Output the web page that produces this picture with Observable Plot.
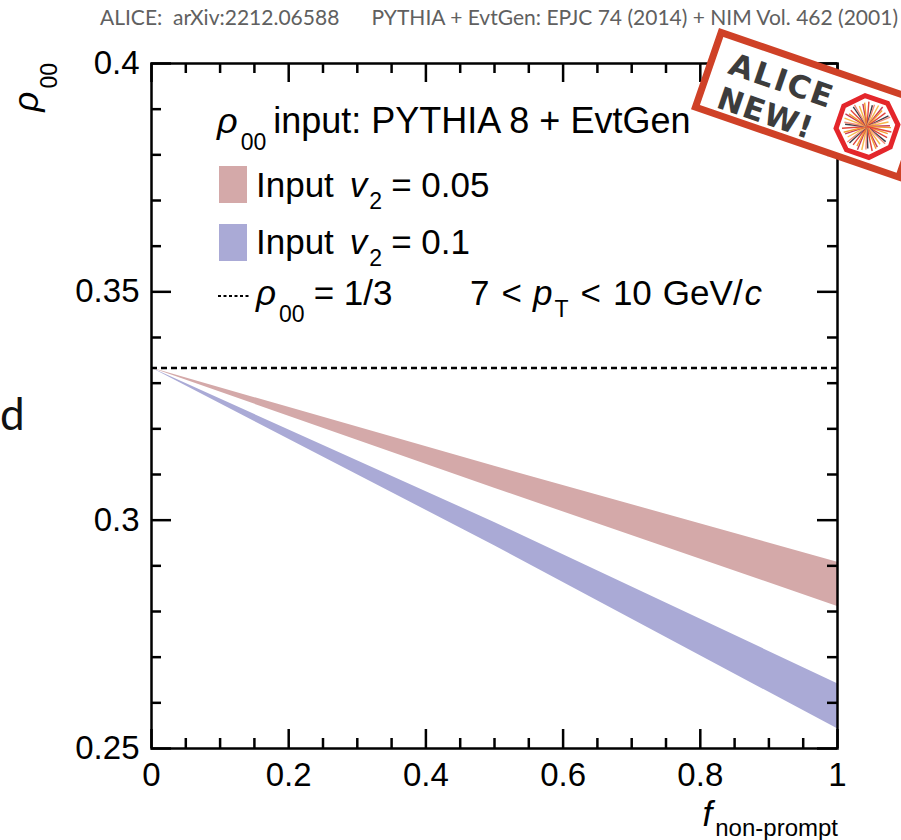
<!DOCTYPE html>
<html>
<head>
<meta charset="utf-8">
<script src="https://cdn.jsdelivr.net/npm/d3@7"></script>
<script src="https://cdn.jsdelivr.net/npm/@observablehq/plot@0.6"></script>
<style>
  body { margin: 0; background: #fff; }
  #wrap { position: relative; width: 901px; height: 840px; overflow: hidden; background: #fff; }
  #wrap > svg { position: absolute; left: 0; top: 0; }
</style>
</head>
<body>
<div id="wrap"></div>
<script>
// Non-prompt fraction and the simulated rho00 bands (lower / upper edge)
const fNonPrompt = [0, 0.5, 1];
const rhoV2005Upper = [0.3333, 0.3118, 0.2908];
const rhoV2005Lower = [0.3333, 0.3070, 0.2811];
const rhoV201Upper  = [0.3333, 0.2995, 0.2642];
const rhoV201Lower  = [0.3333, 0.2944, 0.2543];
const rhoUnpolarized = 1 / 3;

// Axis ticks
const xTicksMajor = [0, 0.2, 0.4, 0.6, 0.8, 1];
const xTickLabels = ["0", "0.2", "0.4", "0.6", "0.8", "1"];
const xTicksMinor = [0.05, 0.1, 0.15, 0.25, 0.3, 0.35, 0.45, 0.5, 0.55, 0.65, 0.7, 0.75, 0.85, 0.9, 0.95];
const yTicksMajor = [0.25, 0.3, 0.35, 0.4];
const yTickLabels = ["0.25", "0.3", "0.35", "0.4"];
const yTicksMinor = [0.26, 0.27, 0.28, 0.29, 0.31, 0.32, 0.33, 0.34, 0.36, 0.37, 0.38, 0.39];

const colV2005 = "#d4a9a9";
const colV201 = "#aaaad6";
const FONT = "'Liberation Sans', Arimo, Helvetica, Arial, sans-serif";

const W = 901, H = 840;
const mL = 151, mR = 64, mT = 63, mB = 92;
const fw = W - mL - mR, fh = H - mT - mB;
const lw = 2.5;

const band = (upper, lower) => fNonPrompt.map((f, i) => ({f, hi: upper[i], lo: lower[i]}));

const chart = Plot.plot({
  width: W, height: H,
  marginLeft: mL, marginRight: mR, marginTop: mT, marginBottom: mB,
  x: {domain: [0, 1]},
  y: {domain: [0.25, 0.4]},
  style: {fontFamily: FONT, fontSize: "33px", color: "#000", background: "transparent", overflow: "visible"},
  marks: [
    Plot.areaY(band(rhoV2005Upper, rhoV2005Lower), {x: "f", y1: "lo", y2: "hi", fill: colV2005}),
    Plot.areaY(band(rhoV201Upper, rhoV201Lower), {x: "f", y1: "lo", y2: "hi", fill: colV201}),
    Plot.ruleY([rhoUnpolarized], {stroke: "#000", strokeWidth: 2.6, strokeDasharray: "6,4"}),
    // inward ticks on all four sides
    Plot.ruleX(xTicksMajor, {x: d => d, insetTop: fh - 19, strokeWidth: lw}),
    Plot.ruleX(xTicksMajor, {x: d => d, insetBottom: fh - 19, strokeWidth: lw}),
    Plot.ruleX(xTicksMinor, {x: d => d, insetTop: fh - 10, strokeWidth: lw}),
    Plot.ruleX(xTicksMinor, {x: d => d, insetBottom: fh - 10, strokeWidth: lw}),
    Plot.ruleY(yTicksMajor, {y: d => d, insetRight: fw - 20, strokeWidth: lw}),
    Plot.ruleY(yTicksMajor, {y: d => d, insetLeft: fw - 20, strokeWidth: lw}),
    Plot.ruleY(yTicksMinor, {y: d => d, insetRight: fw - 10, strokeWidth: lw}),
    Plot.ruleY(yTicksMinor, {y: d => d, insetLeft: fw - 10, strokeWidth: lw}),
    Plot.frame({stroke: "#000", strokeWidth: lw}),
    Plot.axisX(xTicksMajor, {tickSize: 0, tickPadding: 14, label: null,
      tickFormat: d => xTickLabels[xTicksMajor.indexOf(d)]}),
    Plot.axisY(yTicksMajor, {tickSize: 0, tickPadding: 12, label: null,
      tickFormat: d => yTickLabels[yTicksMajor.indexOf(d)]})
  ]
});
document.getElementById("wrap").appendChild(chart);

const svg = d3.select(chart);
const g = svg.append("g").attr("font-family", FONT).attr("fill", "#000").attr("text-anchor", "start");

// text with italic / subscript pieces
function rich(parent, x, y, parts, size, anchor = "start") {
  const t = parent.append("text").attr("x", x).attr("y", y)
    .attr("font-size", size).attr("text-anchor", anchor);
  let shift = 0;
  for (const p of parts) {
    const s = t.append("tspan").text(p.t);
    const want = p.sub || 0;
    const dy = want - shift;
    if (dy !== 0) { s.attr("dy", dy); shift = want; }
    if (p.dx) s.attr("dx", p.dx);
    if (p.italic) s.attr("font-style", "italic");
    if (p.size) s.attr("font-size", p.size);
  }
  return t;
}

// legend
rich(g, 217, 133, [
  {t: "ρ", italic: true},
  {t: "00", sub: 17, size: 23, dx: 3},
  {t: "input: PYTHIA 8 + EvtGen", sub: 0, dx: 7}
], 36);

g.append("rect").attr("x", 219).attr("y", 166).attr("width", 28).attr("height", 37).attr("fill", colV2005);
rich(g, 256, 197, [
  {t: "Input"},
  {t: "v", italic: true, dx: 16},
  {t: "2", sub: 12, size: 23, dx: 2},
  {t: "= 0.05", sub: 0, dx: 9}
], 35);

g.append("rect").attr("x", 219).attr("y", 224).attr("width", 28).attr("height", 37).attr("fill", colV201);
rich(g, 256, 254, [
  {t: "Input"},
  {t: "v", italic: true, dx: 16},
  {t: "2", sub: 12, size: 23, dx: 2},
  {t: "= 0.1", sub: 0, dx: 9}
], 35);

g.append("line").attr("x1", 218).attr("x2", 250).attr("y1", 296).attr("y2", 296)
  .attr("stroke", "#000").attr("stroke-width", 2).attr("stroke-dasharray", "3,2.5");
rich(g, 256, 305, [
  {t: "ρ", italic: true},
  {t: "00", sub: 17, size: 23, dx: 3},
  {t: "= 1/3", sub: 0, dx: 9}
], 35);
rich(g, 470, 305, [
  {t: "7"},
  {t: "<", dx: 12},
  {t: "p", italic: true, dx: 11},
  {t: "T", sub: 12, size: 23, dx: 2},
  {t: "<", sub: 0, dx: 12},
  {t: "10", dx: 12},
  {t: "GeV/", dx: 11},
  {t: "c", italic: true, dx: 2}
], 35);

// axis titles
rich(g, 838, 826, [
  {t: "f", italic: true},
  {t: "non-prompt", sub: 10, size: 24, dx: 3}
], 35, "end");
const yt = g.append("g").attr("transform", "translate(38,63) rotate(-90)");
rich(yt, 0, 0, [
  {t: "ρ", italic: true},
  {t: "00", sub: 19, size: 23, dx: 3}
], 35, "end");

// reference line
g.append("text").attr("x", 898).attr("y", 25).attr("text-anchor", "end")
  .attr("font-family", "Lato, 'Open Sans', sans-serif").attr("font-size", 21).attr("fill", "#606060")
  .attr("xml:space", "preserve")
  .text("ALICE:  arXiv:2212.06588      PYTHIA + EvtGen: EPJC 74 (2014) + NIM Vol. 462 (2001)");

// stray letter at the left edge
g.append("text").attr("x", 0).attr("y", 430).attr("font-family", "Lato, sans-serif")
  .attr("font-size", 44).attr("fill", "#111").text("d");

// "ALICE NEW!" badge
const b = g.append("g").attr("transform", "translate(719,28) rotate(19)");
b.append("rect").attr("x", 3.5).attr("y", 3.5).attr("width", 222 - 7).attr("height", 86 - 7)
  .attr("fill", "#fff").attr("stroke", "#cf4127").attr("stroke-width", 7);
b.append("text").attr("x", 22).attr("y", 40).attr("font-family", "'DejaVu Sans', sans-serif")
  .attr("font-weight", "bold").attr("font-size", 31).attr("letter-spacing", 2).attr("fill", "#3c3c3c").text("ALICE");
b.append("text").attr("x", 22).attr("y", 76).attr("font-family", "'DejaVu Sans', sans-serif")
  .attr("font-weight", "bold").attr("font-size", 31).attr("letter-spacing", 1).attr("fill", "#3c3c3c").text("NEW!");
const logo = b.append("g").attr("transform", "translate(172,45)");
const oct = d3.range(8).map(k => {
  const a = Math.PI / 8 + k * Math.PI / 4;
  return [31 * Math.cos(a), 31 * Math.sin(a)];
});
logo.append("polygon").attr("points", oct.map(p => p.join(",")).join(" "))
  .attr("fill", "#fff").attr("stroke", "#e4262b").attr("stroke-width", 5);
const rays = ["#f39c32", "#e2463d", "#3d3d4a", "#f08c7a", "#f6b94a", "#c73a56"];
d3.range(44).forEach(k => {
  const a = k * 2 * Math.PI / 44 + 0.03 * (k % 3);
  const r = 22 + (k % 4);
  logo.append("line").attr("x1", 0).attr("y1", 0)
    .attr("x2", r * Math.cos(a)).attr("y2", r * Math.sin(a))
    .attr("stroke", rays[k % rays.length]).attr("stroke-width", 1.4);
});
</script>
</body>
</html>
